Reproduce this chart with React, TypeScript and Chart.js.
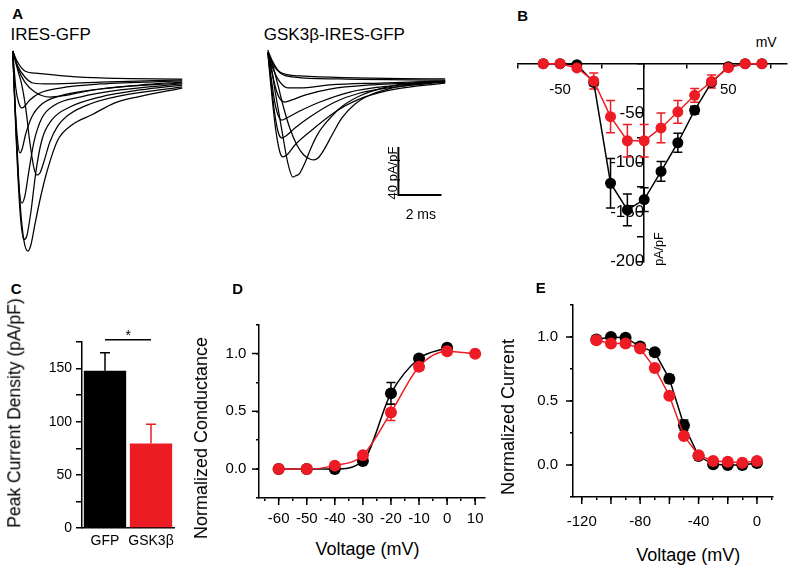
import React, { useEffect, useRef } from 'react';
import { Chart, registerables } from 'chart.js';

Chart.register(...registerables);

const FONT = '"Liberation Sans", Arial, Helvetica, sans-serif';
Chart.defaults.font.family = FONT;
Chart.defaults.color = '#000';

const RED = '#ed1c24';
const BLACK = '#000000';

// ---------- Panel A: current traces, [time (ms), current (pA/pF)] ----------
const gfpTraces: number[][][] = [
  [[0,24.2],[0.14,-33.3],[0.33,-100],[0.51,-133],[0.7,-142.5],[0.84,-137.5],[1.02,-121],[1.26,-100],[1.58,-76.7],[2.09,-50],[2.74,-37.5],[3.67,-29],[4.74,-19],[5.81,-14],[7.86,-6.7]],
  [[0,24.2],[0.14,-41.7],[0.33,-108],[0.51,-133],[0.65,-130],[0.84,-110],[1.07,-76.7],[1.35,-50],[1.81,-33.3],[2.65,-22.5],[4.05,-14.2],[5.91,-8.3],[7.86,-4.2]],
  [[0,24.2],[0.14,-37.5],[0.28,-87.5],[0.42,-102.5],[0.56,-96.7],[0.74,-76.7],[0.98,-51.7],[1.35,-31.7],[1.95,-20.8],[3.12,-14.2],[4.98,-8.3],[7.86,-3.3]],
  [[0,24.2],[0.09,-16.7],[0.23,-51.7],[0.33,-60.8],[0.42,-58.3],[0.6,-45],[0.88,-30.8],[1.35,-20],[2.19,-13.3],[4.05,-7.5],[7.86,-2.5]],
  [[0,24.2],[0.14,-6.7],[0.28,-19.2],[0.42,-23.3],[0.56,-21.7],[0.79,-16.7],[1.26,-10.8],[2.19,-6.7],[4.05,-3.3],[7.86,-0.8]],
  [[0,24.2],[0.23,8.3],[0.42,-4.2],[0.6,-23.3],[0.79,-51.7],[0.98,-73.3],[1.12,-79.2],[1.26,-77.5],[1.44,-68.3],[1.72,-51.7],[2.09,-38.3],[2.65,-28.3],[3.58,-20],[4.98,-13.3],[7.86,-5.8]],
  [[0,24.2],[0.23,10],[0.56,-1.7],[1.02,-10],[1.72,-14.2],[2.28,-13.3],[3.02,-10.8],[4.05,-7.5],[5.91,-4.2],[7.86,-1.7]],
  [[0,24.2],[0.23,11.7],[0.56,2.5],[0.93,-2.5],[1.72,-3.3],[4.05,-1.7],[7.86,0]],
  [[0,24.2],[0.19,16],[0.56,7.5],[1.16,5.5],[2.5,3.3],[4.05,1.7],[7.86,0.8]],
];

const gskTraces: number[][][] = [
  [[0,24.2],[0.14,14],[0.33,-7.5],[0.65,-40.8],[0.93,-68.3],[1.16,-80],[1.3,-79],[1.49,-76.7],[1.72,-68.3],[2.03,-54.7],[2.34,-43.6],[2.81,-32.5],[3.43,-21.4],[4.36,-11.7],[5.6,-4.7],[6.84,-1.4],[8.23,0]],
  [[0,24.2],[0.19,15.8],[0.47,-3.3],[0.74,-22.5],[1.02,-39.2],[1.35,-53.3],[1.67,-61.7],[1.95,-65],[2.14,-65.8],[2.33,-64.2],[2.6,-57.5],[2.98,-45],[3.44,-30.8],[4.05,-19.2],[4.74,-11.7],[5.58,-6.7],[6.6,-3.3],[8.23,0]],
  [[0,24.2],[0.14,-3.3],[0.37,-40.8],[0.56,-59.2],[0.7,-63.3],[0.88,-61.7],[1.26,-53.3],[2.05,-40.8],[3.26,-24.2],[4.51,-13.3],[5.91,-6.7],[8.23,-1.7]],
  [[0,24.2],[0.14,0.8],[0.33,-28.3],[0.51,-44.2],[0.65,-47.5],[0.84,-45.8],[1.26,-39.2],[1.95,-30],[3.12,-17.5],[4.28,-10],[5.91,-5],[8.23,-0.8]],
  [[0,24.2],[0.14,5],[0.33,-18.3],[0.51,-30],[0.65,-32.5],[0.88,-30.8],[1.49,-25],[2.42,-17.5],[3.81,-9.2],[5.67,-4.2],[8.23,-0.8]],
  [[0,24.2],[0.19,7.5],[0.42,-9.2],[0.6,-15.8],[0.79,-17.5],[1.12,-15.8],[1.72,-11.7],[2.88,-6.7],[4.74,-3.3],[8.23,-0.8]],
  [[0,24.2],[0.23,10.8],[0.56,-0.8],[0.93,-5.8],[1.49,-5.8],[2.88,-3.3],[5.21,-1.7],[8.23,0]],
  [[0,24.2],[0.23,14.2],[0.65,5.8],[1.26,3.3],[3.35,1.7],[8.23,0.8]],
  [[0,25.8],[0.19,17.5],[0.56,7.5],[1.49,4.2],[8.23,1.7]],
];

const scaleBarMs = 2;
const scaleBarPA = 40;

// ---------- Panel B: I-V relation ----------
const ivVoltage = [-60, -50, -40, -30, -20, -10, 0, 10, 20, 30, 40, 50, 60, 70];
const ivGfp = [0, 0, -1, -19, -121, -148, -137.5, -109, -80, -47, -19, -3, 0, 0];
const ivGfpErr = [0, 0, 0, 3, 25, 16, 12, 10, 9.5, 4, 2, 0, 0, 0];
const ivGsk = [0, 0, -4.3, -17.5, -53.6, -78, -78, -65, -48.7, -32, -18, -4, 0, 0];
const ivGskErr = [0, 0, 1, 8, 16.4, 16.4, 16.4, 15, 11.5, 7, 6.5, 3, 0, 0];

// ---------- Panel C: peak current density ----------
const barLabels = ['GFP', 'GSK3β'];
const barValues = [148, 79.5];
const barErrors = [17, 18];
const sigLevel = 177;

// ---------- Panel D: activation ----------
const actVoltage = [-60, -50, -40, -30, -20, -10, 0, 10];
const actGfp = [0, 0, 0, 0.07, 0.655, 0.957, 1.05, null];
const actGfpErr = [0, 0, 0, 0.01, 0.095, 0.02, 0.02, 0];
const actGsk = [0, 0, 0.03, 0.12, 0.49, 0.886, 1.02, 0.997];
const actGskErr = [0, 0, 0.01, 0.02, 0.07, 0.03, 0.02, 0.01];

// ---------- Panel E: steady-state inactivation ----------
const inactVoltage = [-110, -100, -90, -80, -70, -60, -50, -40, -30, -20, -10, 0];
const inactGfp = [0.98, 1.0, 0.995, 0.925, 0.88, 0.673, 0.311, 0.07, 0.005, 0, 0, 0.015];
const inactGfpErr = [0, 0, 0, 0, 0.02, 0.03, 0.04, 0.02, 0, 0, 0, 0];
const inactGsk = [0.974, 0.949, 0.949, 0.91, 0.757, 0.541, 0.227, 0.077, 0.031, 0.026, 0.018, 0.031];
const inactGskErr = [0.01, 0.01, 0.01, 0.01, 0.02, 0.02, 0.02, 0.01, 0.01, 0.01, 0.01, 0.01];

// ---------- helpers ----------
const isMult = (v: number, step: number) => Math.abs(v / step - Math.round(v / step)) < 1e-6;
const fmt1 = (v: number) => (Math.abs(v) < 1e-9 ? '0.0' : v.toFixed(1));

function drawErrorBars(chart: any, after: boolean) {
  const ctx = chart.ctx;
  chart.data.datasets.forEach((ds: any, di: number) => {
    if (!ds.errors || !!ds.errorsOnTop !== after) return;
    const meta = chart.getDatasetMeta(di);
    const yScale = chart.scales[meta.yAxisID];
    ctx.save();
    ctx.lineWidth = 1.5;
    meta.data.forEach((el: any, i: number) => {
      const e = ds.errors[i];
      const raw = ds.data[i];
      const v = typeof raw === 'number' ? raw : raw && raw.y;
      if (!e || v == null) return;
      const x = el.x;
      const yHi = yScale.getPixelForValue(v + e);
      const yLo = yScale.getPixelForValue(ds.errorsUpOnly ? v : v - e);
      const cap = ds.errorCap ?? 4.5;
      ctx.strokeStyle = ds.errorColors ? ds.errorColors[i] : ds.borderColor;
      ctx.beginPath();
      ctx.moveTo(x, yLo);
      ctx.lineTo(x, yHi);
      ctx.moveTo(x - cap, yHi);
      ctx.lineTo(x + cap, yHi);
      if (!ds.errorsUpOnly) {
        ctx.moveTo(x - cap, yLo);
        ctx.lineTo(x + cap, yLo);
      }
      ctx.stroke();
    });
    ctx.restore();
  });
}

const errorBarsPlugin = {
  id: 'errorBars',
  beforeDatasetsDraw(chart: any) { drawErrorBars(chart, false); },
  afterDatasetsDraw(chart: any) { drawErrorBars(chart, true); },
};

function makeMajorTicks(spec: Record<string, { every: number; length: number }>) {
  return {
    id: 'majorTicks',
    afterDraw(chart: any) {
      const ctx = chart.ctx;
      ctx.save();
      ctx.strokeStyle = BLACK;
      ctx.lineWidth = 1.5;
      Object.keys(spec).forEach((id) => {
        const sc = chart.scales[id];
        const { every, length } = spec[id];
        sc.ticks.forEach((t: any) => {
          if (!isMult(t.value, every)) return;
          const p = sc.getPixelForValue(t.value);
          ctx.beginPath();
          if (sc.isHorizontal()) {
            ctx.moveTo(p, sc.top);
            ctx.lineTo(p, sc.top + length);
          } else {
            ctx.moveTo(sc.right, p);
            ctx.lineTo(sc.right - length, p);
          }
          ctx.stroke();
        });
      });
      ctx.restore();
    },
  };
}

const common: any = {
  animation: false,
  responsive: false,
  maintainAspectRatio: false,
  devicePixelRatio: 1,
  events: [],
  plugins: { legend: { display: false }, tooltip: { enabled: false } },
};

function traceDatasets(traces: number[][][]) {
  return traces.map((tr) => ({
    data: tr.map(([x, y]) => ({ x, y })),
    borderColor: BLACK,
    borderWidth: 1.25,
    pointRadius: 0,
    cubicInterpolationMode: 'monotone',
    fill: false,
    clip: false,
  }));
}

function makeGfpTraces(): any {
  return {
    type: 'line',
    data: { datasets: traceDatasets(gfpTraces) },
    options: {
      ...common,
      layout: { padding: 0 },
      scales: {
        x: { type: 'linear', display: false, min: -0.5, max: 8.5 },
        y: { type: 'linear', display: false, min: -150, max: 30 },
      },
    },
  };
}

function makeGskTraces(): any {
  const barT = 6.06;
  const barI = -95;
  return {
    type: 'line',
    data: {
      datasets: [
        ...traceDatasets(gskTraces),
        {
          data: [
            { x: barT, y: barI + scaleBarPA },
            { x: barT, y: barI },
            { x: barT + scaleBarMs, y: barI },
          ],
          borderColor: BLACK,
          borderWidth: 2,
          pointRadius: 0,
          borderJoinStyle: 'miter',
          clip: false,
        },
      ],
    },
    options: {
      ...common,
      layout: { padding: 0 },
      scales: {
        x: { type: 'linear', display: false, min: -0.5, max: 8.5 },
        y: { type: 'linear', display: false, min: -100, max: 30 },
      },
    },
  };
}

function pointSeries(xs: number[], ys: (number | null)[], color: string, radius: number, errors: number[], order: number, smooth: boolean) {
  return {
    data: xs.map((x, i) => ({ x, y: ys[i] })),
    borderColor: color,
    backgroundColor: color,
    pointBackgroundColor: color,
    pointBorderColor: color,
    pointBorderWidth: 0,
    pointRadius: radius,
    borderWidth: 1.5,
    cubicInterpolationMode: smooth ? 'monotone' : 'default',
    tension: 0,
    errors,
    order,
    clip: false,
  };
}

function makeIV(): any {
  return {
    type: 'line',
    data: {
      datasets: [
        pointSeries(ivVoltage, ivGsk, RED, 5.5, ivGskErr, 0, false),
        pointSeries(ivVoltage, ivGfp, BLACK, 5.5, ivGfpErr, 1, false),
      ],
    },
    options: {
      ...common,
      layout: { padding: { left: 10.2, right: 7.8, top: 12.3, bottom: 9.7 } },
      scales: {
        x: {
          type: 'linear', min: -75, max: 85, position: { y: 0 },
          border: { color: BLACK, width: 1.5 },
          grid: { drawOnChartArea: false, tickLength: 4, color: BLACK, lineWidth: 1.5 },
          ticks: {
            stepSize: 25, includeBounds: false, autoSkip: false, maxRotation: 0, padding: 13,
            font: { size: 15 }, color: BLACK,
            callback: (v: number) => (v === -50 || v === 50 ? String(v) : ''),
          },
        },
        y: {
          type: 'linear', min: -200, max: 0, position: { x: 0 },
          border: { color: BLACK, width: 1.5 },
          grid: { drawOnChartArea: false, tickLength: 6, color: BLACK, lineWidth: 1.5 },
          ticks: {
            stepSize: 25, autoSkip: false, padding: 3.5, font: { size: 17 }, color: BLACK,
            callback: (v: number) => (v !== 0 && isMult(v, 50) ? String(v) : ''),
          },
        },
      },
    },
    plugins: [errorBarsPlugin],
  };
}

function makeBars(): any {
  return {
    type: 'bar',
    data: {
      labels: barLabels,
      datasets: [
        {
          type: 'bar',
          data: barValues,
          backgroundColor: [BLACK, RED],
          borderWidth: 0,
          barPercentage: 1,
          categoryPercentage: 0.92,
          errors: barErrors,
          errorColors: [BLACK, RED],
          errorsUpOnly: true,
          errorsOnTop: true,
          errorCap: 5,
          order: 1,
        },
        {
          type: 'line',
          data: barLabels.map(() => sigLevel),
          borderColor: BLACK,
          borderWidth: 1.5,
          pointRadius: 0,
          clip: false,
          order: 0,
        },
      ],
    },
    options: {
      ...common,
      layout: { padding: { top: 16, right: 10, left: 0, bottom: 0 } },
      scales: {
        x: {
          border: { color: BLACK, width: 1.5 },
          grid: { drawOnChartArea: false, drawTicks: false },
          ticks: { padding: 5, font: { size: 14 }, color: BLACK, maxRotation: 0, autoSkip: false },
          afterFit: (s: any) => { s.height = 30; },
        },
        y: {
          min: 0, max: 175,
          border: { color: BLACK, width: 1.5 },
          grid: { drawOnChartArea: false, tickLength: 6, color: BLACK, lineWidth: 1.5 },
          ticks: {
            stepSize: 25, padding: 4, font: { size: 14 }, color: BLACK,
            callback: (v: number) => (isMult(v, 50) ? String(v) : ''),
          },
          afterFit: (s: any) => { s.width = 60; },
        },
      },
    },
    plugins: [errorBarsPlugin],
  };
}

function boltzScales(xMin: number, xMax: number, xLabelEvery: number, xPad: number, yPad: number) {
  return {
    x: {
      type: 'linear', min: xMin, max: xMax,
      border: { color: BLACK, width: 1.5 },
      grid: { drawOnChartArea: false, tickLength: 3, color: BLACK, lineWidth: 1.5 },
      ticks: {
        stepSize: xLabelEvery === 10 ? 5 : 10, includeBounds: false, autoSkip: false,
        maxRotation: 0, minRotation: 0, padding: xPad, font: { size: 15 }, color: BLACK,
        callback: (v: number) => (isMult(v, xLabelEvery) ? String(v) : ''),
      },
      afterFit: (s: any) => { s.height = 30; },
    },
    y: {
      type: 'linear', min: -0.25, max: 1.25,
      border: { color: BLACK, width: 1.5 },
      grid: { drawOnChartArea: false, tickLength: 3, color: BLACK, lineWidth: 1.5 },
      ticks: {
        stepSize: 0.25, autoSkip: false, padding: yPad, font: { size: 15 }, color: BLACK,
        callback: (v: number) => (isMult(v, 0.5) ? fmt1(v) : ''),
      },
      afterFit: (s: any) => { s.width = 60; },
    },
  };
}

function makeActivation(): any {
  return {
    type: 'line',
    data: {
      datasets: [
        pointSeries(actVoltage, actGsk, RED, 6, actGskErr, 0, true),
        pointSeries(actVoltage, actGfp, BLACK, 6, actGfpErr, 1, true),
      ],
    },
    options: {
      ...common,
      layout: { padding: { top: 16, right: 15, left: 0, bottom: 0 } },
      scales: boltzScales(-67, 13.5, 10, 9, 9.6),
    },
    plugins: [errorBarsPlugin, makeMajorTicks({ x: { every: 10, length: 7 }, y: { every: 0.5, length: 7 } })],
  };
}

function makeInactivation(): any {
  return {
    type: 'line',
    data: {
      datasets: [
        pointSeries(inactVoltage, inactGsk, RED, 6, inactGskErr, 0, false),
        pointSeries(inactVoltage, inactGfp, BLACK, 6, inactGfpErr, 1, false),
      ],
    },
    options: {
      ...common,
      layout: { padding: { top: 16, right: 15, left: 0, bottom: 0 } },
      scales: boltzScales(-126, 11, 40, 12.7, 12),
    },
    plugins: [errorBarsPlugin, makeMajorTicks({ x: { every: 20, length: 7 }, y: { every: 0.5, length: 7 } })],
  };
}

function ChartBox(props: { left: number; top: number; width: number; height: number; make: () => any }) {
  const ref = useRef<HTMLCanvasElement>(null);
  useEffect(() => {
    const chart = new Chart(ref.current as HTMLCanvasElement, props.make());
    return () => chart.destroy();
  }, []);
  return (
    <canvas
      ref={ref}
      width={props.width}
      height={props.height}
      style={{ position: 'absolute', left: props.left, top: props.top, width: props.width, height: props.height }}
    />
  );
}

function Label(props: { x: number; y: number; size: number; bold?: boolean; center?: boolean; rotate?: boolean; children: any }) {
  const style: any = {
    position: 'absolute',
    left: props.x,
    top: props.y,
    fontSize: props.size,
    lineHeight: 1,
    fontWeight: props.bold ? 700 : 400,
    whiteSpace: 'nowrap',
    fontFamily: FONT,
    color: BLACK,
  };
  if (props.rotate) style.transform = 'translate(-50%,-50%) rotate(-90deg)';
  else if (props.center) style.transform = 'translateX(-50%)';
  return <div style={style}>{props.children}</div>;
}

export default function App() {
  return (
    <div style={{ position: 'absolute', left: 0, top: 0, width: 795, height: 573, background: '#fff', overflow: 'hidden' }}>
      <ChartBox left={2} top={44} width={194} height={216} make={makeGfpTraces} />
      <ChartBox left={257} top={45} width={194} height={156} make={makeGskTraces} />
      <ChartBox left={505} top={50} width={290} height={225} make={makeIV} />
      <ChartBox left={22} top={326} width={162} height={232} make={makeBars} />
      <ChartBox left={199} top={306} width={301} height={222} make={makeActivation} />
      <ChartBox left={513} top={284} width={275} height={243} make={makeInactivation} />

      <Label x={12.3} y={6.3} size={15} bold>A</Label>
      <Label x={10.5} y={26.1} size={17}>IRES-GFP</Label>
      <Label x={263.8} y={26.1} size={17}>GSK3β-IRES-GFP</Label>
      <Label x={391.7} y={173.3} size={13} rotate>40 pA/pF</Label>
      <Label x={420.8} y={206.5} size={14} center>2 ms</Label>

      <Label x={517.3} y={8} size={15} bold>B</Label>
      <Label x={755.7} y={34.9} size={14}>mV</Label>
      <Label x={659.2} y={249.2} size={12.5} rotate>pA/pF</Label>

      <Label x={10.7} y={280.7} size={15} bold>C</Label>
      <Label x={15} y={413.3} size={17.5} rotate>Peak Current Density (pA/pF)</Label>
      <Label x={128.3} y={328.2} size={14} center>*</Label>

      <Label x={232.3} y={281.3} size={15} bold>D</Label>
      <Label x={201} y={437.5} size={18} rotate>Normalized Conductance</Label>
      <Label x={367.5} y={540.4} size={18} center>Voltage (mV)</Label>

      <Label x={535.7} y={279.7} size={15} bold>E</Label>
      <Label x={507.5} y={416.7} size={18} rotate>Normalized Current</Label>
      <Label x={688.3} y={546} size={18} center>Voltage (mV)</Label>
    </div>
  );
}
